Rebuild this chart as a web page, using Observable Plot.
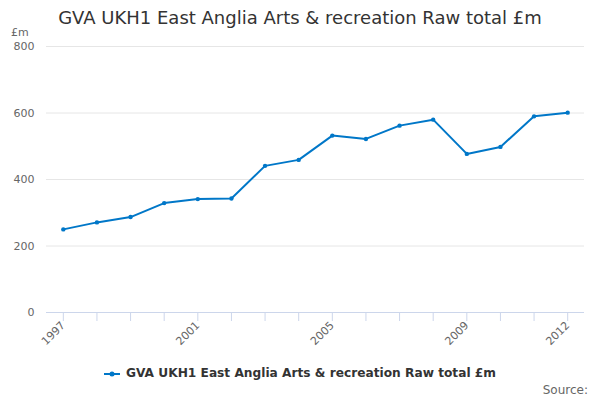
<!DOCTYPE html>
<html>
<head>
<meta charset="utf-8">
<script src="https://cdn.jsdelivr.net/npm/d3@7"></script>
<script src="https://cdn.jsdelivr.net/npm/@observablehq/plot@0.6"></script>
<style>
  body { margin: 0; background: #fff; font-family: "DejaVu Sans", sans-serif; }
  #wrap { position: relative; width: 600px; height: 400px; overflow: hidden; }
  #title { position: absolute; top: 7px; left: 0; width: 600px; text-align: center; font-size: 18px; color: #333; height: 29px; }
  #chart { position: absolute; top: 36px; left: 0; z-index: 0; }
  #unit { position: absolute; top: 26px; left: 11px; font-size: 11px; line-height: 13px; color: #666; z-index: 2; }
  #legend { position: absolute; top: 366px; left: 0; width: 600px; text-align: center; font-size: 12.2px; font-weight: bold; color: #333; }
  #legend svg { vertical-align: middle; margin-right: 6px; }
  #source { position: absolute; top: 383px; right: 12px; font-size: 12px; color: #666; }
</style>
</head>
<body>
<div id="wrap">
  <div id="title"></div>
  <div id="chart"></div>
  <div id="unit"></div>
  <div id="legend"></div>
  <div id="source"></div>
</div>
<script>
const titleText = "GVA UKH1 East Anglia Arts & recreation Raw total £m";
const seriesName = "GVA UKH1 East Anglia Arts & recreation Raw total £m";
const unitLabel = "£m";
const sourceText = "Source:";
const years = [1997, 1998, 1999, 2000, 2001, 2002, 2003, 2004, 2005, 2006, 2007, 2008, 2009, 2010, 2011, 2012];
const values = [250, 271, 287, 329, 341, 343, 441, 459, 532, 522, 562, 580, 477, 498, 590, 601];
const yTicks = [0, 200, 400, 600, 800];
const xLabelYears = [1997, 2001, 2005, 2009, 2012];
const lineColor = "#0077c8";

document.getElementById("title").textContent = titleText;
document.getElementById("unit").textContent = unitLabel;
document.getElementById("source").textContent = sourceText;

const data = years.map((y, i) => ({year: y, value: values[i]}));

const chart = Plot.plot({
  width: 600,
  height: 320,
  marginLeft: 46,
  marginRight: 16,
  marginTop: 10,
  marginBottom: 44,
  style: {fontFamily: "DejaVu Sans, sans-serif", fontSize: "11px", color: "#666", background: "transparent"},
  x: {type: "linear", domain: [years[0] - 0.5, years[years.length - 1] + 0.5]},
  y: {domain: [0, 800]},
  marks: [
    Plot.gridY(yTicks, {stroke: "#e6e6e6", strokeOpacity: 1}),
    Plot.axisY(yTicks, {tickSize: 0, tickPadding: 12, label: null, fill: "#666", fontSize: 11}),
    Plot.ruleY([0], {stroke: "#ccd6eb"}),
    Plot.axisX(years, {
      tickSize: 9, stroke: "#ccd6eb", strokeOpacity: 1,
      tickRotate: -45, tickPadding: 2,
      tickFormat: d => xLabelYears.includes(d) ? String(d) : "",
      label: null, fill: "#666", fontSize: 11
    }),
    Plot.line(data, {x: "year", y: "value", stroke: lineColor, strokeWidth: 2}),
    Plot.dot(data, {x: "year", y: "value", fill: lineColor, r: 2.2, stroke: "none"})
  ]
});
document.getElementById("chart").appendChild(chart);

const leg = document.getElementById("legend");
const ns = "http://www.w3.org/2000/svg";
const sw = document.createElementNS(ns, "svg");
sw.setAttribute("width", 16); sw.setAttribute("height", 10);
const ln = document.createElementNS(ns, "line");
ln.setAttribute("x1", 0); ln.setAttribute("x2", 16); ln.setAttribute("y1", 5); ln.setAttribute("y2", 5);
ln.setAttribute("stroke", lineColor); ln.setAttribute("stroke-width", 2);
const ci = document.createElementNS(ns, "circle");
ci.setAttribute("cx", 8); ci.setAttribute("cy", 5); ci.setAttribute("r", 2.5); ci.setAttribute("fill", lineColor);
sw.appendChild(ln); sw.appendChild(ci);
leg.appendChild(sw);
leg.appendChild(document.createTextNode(seriesName));
</script>
</body>
</html>
